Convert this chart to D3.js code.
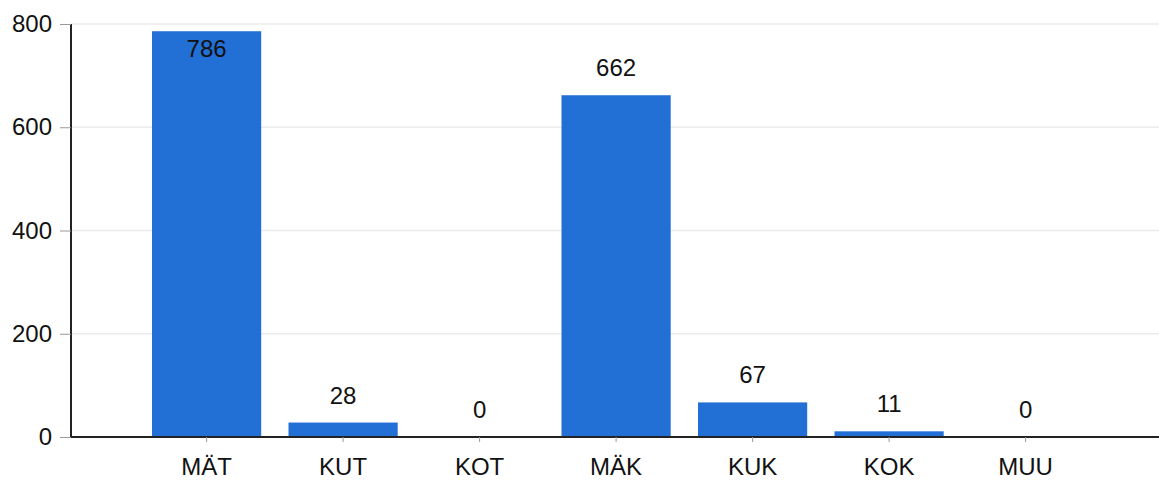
<!DOCTYPE html>
<html>
<head>
<meta charset="utf-8">
<script src="https://cdn.jsdelivr.net/npm/d3@7"></script>
<style>
  body { margin: 0; background: #fff; }
  text { font-family: "Liberation Sans", Arial, sans-serif; fill: #111; }
</style>
</head>
<body>
<svg id="chart" width="1159" height="481"></svg>
<script>
const categories = ["MÄT", "KUT", "KOT", "MÄK", "KUK", "KOK", "MUU"];
const values = [786, 28, 0, 662, 67, 11, 0];
const yTicks = [0, 200, 400, 600, 800];

const svg = d3.select("#chart");
const plotLeft = 71, plotRight = 1159, plotTop = 24, plotBottom = 437;

const x = d3.scaleBand().domain(categories).range([152, 1080.2]).paddingInner(0.2).paddingOuter(0);
const y = d3.scaleLinear().domain([0, 800]).range([plotBottom, plotTop]);

// gridlines
svg.append("g").selectAll("line").data(yTicks.slice(1)).enter().append("line")
  .attr("x1", plotLeft).attr("x2", plotRight)
  .attr("y1", d => y(d)).attr("y2", d => y(d))
  .attr("stroke", "#ebebeb").attr("stroke-width", 1.5);

// bars
svg.append("g").selectAll("rect").data(values).enter().append("rect")
  .attr("x", (d, i) => x(categories[i]))
  .attr("width", x.bandwidth())
  .attr("y", d => y(d))
  .attr("height", d => plotBottom - y(d))
  .attr("fill", "#226fd5");

// value labels
svg.append("g").selectAll("text").data(values).enter().append("text")
  .attr("x", (d, i) => x(categories[i]) + x.bandwidth() / 2)
  .attr("y", d => Math.max(y(d) - 19, 57))
  .attr("text-anchor", "middle")
  .style("font-size", "24px")
  .text(d => d);

// y axis
const yAxis = svg.append("g").attr("transform", `translate(${plotLeft},0)`)
  .call(d3.axisLeft(y).tickValues(yTicks).tickSize(11).tickPadding(8));
yAxis.select(".domain").attr("stroke", "#222").attr("stroke-width", 2).attr("d", `M0,${plotTop}V${plotBottom}`);
yAxis.selectAll(".tick line").attr("stroke", "#999");
yAxis.selectAll(".tick text").style("font-size", "24px").attr("fill", "#111");

// x axis
const xAxis = svg.append("g").attr("transform", `translate(0,${plotBottom})`)
  .call(d3.axisBottom(x).tickSize(5).tickPadding(16));
xAxis.select(".domain").attr("stroke", "#222").attr("stroke-width", 2).attr("d", `M${plotLeft},0H${plotRight}`);
xAxis.selectAll(".tick line").attr("stroke", "#999");
xAxis.selectAll(".tick text").style("font-size", "24px").attr("fill", "#111");
</script>
</body>
</html>
